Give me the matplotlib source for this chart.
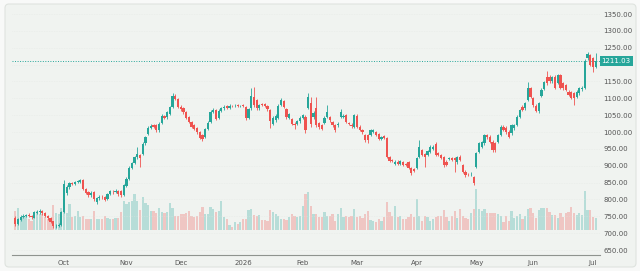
import matplotlib
matplotlib.use("Agg")
import matplotlib.pyplot as plt
import matplotlib.transforms as mtransforms
from matplotlib.patches import FancyBboxPatch
import numpy as np
import pandas as pd

# ---------------- data ----------------
start_date = "2025-09-05"
n_days = 215

opens = [745, 728, 740, 748, 752, 755, 752, 746, 761, 762,
         767, 760, 752, 745, 735, 721, 722, 724, 762, 818,
         836, 848, 846, 851, 853, 857, 831, 821, 812, 822,
         792, 803, 808, 808, 800, 815, 823, 821, 826, 825,
         813, 841, 862, 893, 908, 925, 932, 935, 966, 995,
         1013, 1020, 1020, 1005, 1028, 1046, 1044, 1052, 1074, 1106,
         1098, 1075, 1070, 1058, 1045, 1030, 1020, 1012, 1000, 990,
         985, 1010, 1030, 1060, 1065, 1042, 1062, 1070, 1076, 1072,
         1078, 1076, 1078, 1077, 1079, 1075, 1043, 1070, 1105, 1095,
         1070, 1083, 1082, 1078, 1065, 1025, 1035, 1042, 1080, 1092,
         1068, 1042, 1038, 1025, 1024, 1032, 1042, 1045, 1072, 1085,
         1045, 1071, 1027, 1020, 1027, 1045, 1044, 1030, 1021, 1020,
         1045, 1045, 1050, 1027, 1022, 1015, 1048, 1016, 1006, 991,
         990, 991, 1000, 1000, 994, 980, 987, 981, 927, 917,
         905, 912, 905, 910, 905, 912, 894, 890, 893, 927,
         947, 935, 932, 942, 950, 965, 938, 932, 927, 912,
         920, 923, 923, 910, 927, 902, 882, 875, 874, 867,
         897, 941, 956, 966, 991, 986, 971, 966, 971, 991,
         1016, 1013, 1001, 996, 1011, 1021, 1045, 1075, 1070, 1095,
         1130, 1101, 1078, 1062, 1108, 1128, 1162, 1164, 1150, 1164,
         1145, 1168, 1144, 1139, 1120, 1118, 1115, 1105, 1115, 1127,
         1130, 1219, 1228, 1219, 1194]

closes = [728, 742, 749, 752, 754, 751, 747, 762, 763, 767,
          759, 751, 744, 734, 720, 722, 725, 762, 845, 836,
          848, 846, 851, 854, 857, 832, 820, 812, 820, 800,
          804, 808, 806, 799, 817, 824, 821, 826, 815, 812,
          842, 862, 894, 908, 925, 935, 922, 965, 984, 1013,
          1018, 1015, 1005, 1025, 1048, 1042, 1058, 1073, 1108, 1098,
          1075, 1068, 1058, 1043, 1031, 1016, 1010, 1000, 983, 978,
          1008, 1028, 1060, 1065, 1040, 1063, 1070, 1075, 1072, 1078,
          1076, 1078, 1077, 1078, 1077, 1043, 1068, 1108, 1080, 1070,
          1080, 1080, 1078, 1068, 1032, 1042, 1047, 1078, 1095, 1075,
          1045, 1052, 1025, 1022, 1032, 1042, 1050, 1005, 1104, 1025,
          1056, 1021, 1015, 1010, 1042, 1060, 1035, 1020, 1006, 1025,
          1060, 1046, 1030, 1025, 1018, 1050, 1015, 1006, 1000, 976,
          975, 1006, 1006, 991, 980, 984, 983, 927, 914, 915,
          912, 905, 914, 902, 903, 894, 878, 885, 923, 956,
          932, 927, 944, 956, 956, 932, 932, 923, 902, 902,
          923, 917, 917, 925, 917, 882, 872, 874, 876, 848,
          937, 966, 969, 991, 984, 971, 947, 947, 991, 1016,
          1006, 999, 986, 1021, 1021, 1045, 1065, 1065, 1085, 1130,
          1105, 1080, 1062, 1085, 1126, 1148, 1145, 1150, 1163, 1132,
          1168, 1132, 1130, 1125, 1110, 1102, 1100, 1120, 1130, 1132,
          1212, 1232, 1200, 1194, 1211.03]

highs = [750, 746, 753, 756, 758, 759, 755, 766, 768, 772,
         770, 762, 755, 748, 737, 727, 729, 766, 858, 842,
         853, 852, 855, 859, 862, 860, 834, 825, 824, 826,
         808, 812, 812, 810, 820, 828, 827, 830, 829, 828,
         846, 866, 898, 912, 930, 956, 936, 969, 988, 1017,
         1023, 1024, 1023, 1029, 1053, 1050, 1062, 1078, 1115, 1112,
         1101, 1079, 1073, 1061, 1048, 1034, 1023, 1015, 1004, 994,
         1012, 1032, 1064, 1070, 1068, 1067, 1074, 1079, 1080, 1082,
         1081, 1082, 1082, 1081, 1083, 1078, 1072, 1130, 1133, 1099,
         1084, 1087, 1086, 1081, 1068, 1046, 1052, 1082, 1102, 1095,
         1072, 1056, 1042, 1029, 1036, 1046, 1054, 1050, 1115, 1105,
         1062, 1105, 1031, 1024, 1046, 1080, 1048, 1034, 1025, 1029,
         1068, 1052, 1054, 1031, 1026, 1054, 1052, 1020, 1010, 995,
         994, 1010, 1010, 1004, 998, 988, 991, 984, 930, 921,
         916, 916, 918, 914, 909, 915, 897, 894, 927, 976,
         950, 938, 948, 960, 960, 969, 942, 936, 930, 916,
         927, 927, 927, 929, 931, 906, 886, 879, 880, 870,
         941, 970, 973, 995, 995, 990, 975, 970, 995, 1020,
         1020, 1017, 1005, 1025, 1025, 1049, 1069, 1079, 1089, 1149,
         1134, 1105, 1082, 1089, 1130, 1152, 1182, 1168, 1167, 1168,
         1172, 1172, 1148, 1143, 1124, 1122, 1119, 1124, 1134, 1136,
         1216, 1238, 1232, 1223, 1234]

lows = [722, 724, 737, 744, 748, 747, 741, 744, 757, 758,
        755, 748, 740, 730, 714, 716, 718, 721, 760, 812,
        832, 842, 842, 848, 850, 828, 815, 808, 808, 796,
        786, 799, 802, 795, 797, 812, 817, 818, 811, 808,
        810, 838, 858, 889, 904, 921, 896, 931, 962, 990,
        1009, 1011, 1001, 1000, 1024, 1038, 1040, 1049, 1070, 1094,
        1071, 1063, 1053, 1038, 1026, 1011, 1005, 995, 978, 972,
        981, 1006, 1026, 1056, 1035, 1038, 1058, 1066, 1068, 1069,
        1073, 1073, 1074, 1074, 1073, 1036, 1040, 1066, 1075, 1065,
        1066, 1076, 1074, 1063, 1012, 1020, 1031, 1039, 1076, 1070,
        1040, 1038, 1020, 1010, 1020, 1028, 1038, 998, 1068, 1015,
        1040, 1016, 1010, 1005, 1023, 1041, 1031, 1016, 1001, 1016,
        1041, 1041, 1026, 1021, 1013, 1011, 1011, 1002, 995, 971,
        968, 987, 996, 987, 975, 976, 979, 922, 910, 911,
        901, 901, 901, 898, 899, 889, 873, 880, 889, 923,
        928, 897, 928, 938, 946, 928, 928, 919, 897, 898,
        916, 913, 880, 906, 913, 877, 868, 870, 870, 843,
        893, 937, 952, 962, 980, 966, 942, 940, 967, 987,
        1002, 995, 981, 992, 1007, 1017, 1041, 1061, 1066, 1091,
        1100, 1075, 1058, 1056, 1104, 1124, 1140, 1146, 1146, 1127,
        1141, 1127, 1126, 1121, 1106, 1097, 1080, 1101, 1111, 1123,
        1127, 1214, 1195, 1178, 1190]

# volume in millions of shares
volumes = [1.9, 2.2, 1.2, 1.4, 1.4, 1.1, 0.9, 1.4, 1.9, 1.6,
           1.6, 1.3, 1.1, 0.9, 2.5, 1.7, 1.6, 2.2, 3.1, 1.7,
           2.6, 1.3, 1.4, 1.9, 1.3, 1.4, 1.1, 1.1, 1.1, 1.9,
           1.1, 1.1, 1.1, 1.4, 1.2, 1.1, 1.1, 1.2, 1.2, 1.8,
           2.9, 2.6, 2.8, 2.9, 3.6, 2.9, 2.0, 3.3, 2.7, 2.5,
           1.9, 1.9, 1.7, 2.2, 1.8, 1.7, 1.8, 2.7, 2.2, 1.4,
           1.4, 1.6, 1.6, 1.7, 1.9, 1.4, 1.3, 1.4, 1.8, 2.3,
           1.6, 1.6, 2.3, 2.1, 1.8, 1.9, 2.9, 1.3, 1.1, 0.5,
           0.3, 0.8, 0.6, 0.8, 1.1, 1.1, 2.0, 2.1, 1.5, 1.4,
           1.5, 1.0, 1.0, 0.9, 2.0, 1.8, 1.6, 1.4, 1.1, 1.1,
           1.0, 1.3, 1.6, 1.4, 1.3, 1.4, 2.4, 3.6, 3.8, 2.4,
           1.6, 1.6, 1.3, 1.3, 1.8, 1.4, 1.4, 1.6, 0.9, 1.6,
           2.2, 1.3, 1.4, 1.3, 1.4, 2.1, 1.3, 1.4, 1.2, 1.6,
           1.9, 1.0, 0.9, 0.8, 1.1, 0.9, 1.3, 2.8, 1.8, 1.4,
           2.4, 1.3, 1.4, 1.1, 1.1, 1.3, 1.6, 1.3, 3.1, 1.4,
           0.9, 1.4, 1.3, 0.9, 1.1, 1.3, 1.4, 1.4, 2.0, 1.3,
           0.9, 1.4, 1.9, 1.2, 2.1, 1.4, 1.2, 1.1, 1.7, 2.1,
           4.1, 2.1, 1.9, 2.1, 1.7, 1.7, 1.7, 1.7, 1.6, 1.4,
           0.8, 1.4, 0.9, 1.9, 1.2, 1.4, 1.6, 1.1, 1.4, 2.1,
           2.2, 1.7, 1.2, 2.0, 2.2, 2.2, 2.2, 1.8, 1.5, 1.5,
           1.2, 1.7, 1.3, 1.7, 1.8, 2.3, 1.7, 1.5, 1.7, 1.5,
           3.9, 2.0, 2.0, 1.3, 1.2]

price_ticks = [650, 700, 750, 800, 850, 900, 950, 1000, 1050,
               1100, 1150, 1200, 1250, 1300, 1350]
last_price = 1211.03

# ---------------- style ----------------
UP = "#26a69a"
DOWN = "#ef5350"
BG = "#f0f3f0"

dates = pd.bdate_range(start_date, periods=n_days)
o = np.array(opens, float)
c = np.array(closes, float)
h = np.array(highs, float)
l = np.array(lows, float)
v = np.array(volumes, float)
idx = np.arange(n_days)
up = c >= o
cols = np.where(up, UP, DOWN)

fig = plt.figure(figsize=(6.4, 2.71), dpi=100)
fig.patch.set_facecolor("#f8f9f8")

# card background
bg_ax = fig.add_axes([0, 0, 1, 1], zorder=-5)
bg_ax.set_xlim(0, 640)
bg_ax.set_ylim(271, 0)
bg_ax.axis("off")
bg_ax.add_patch(FancyBboxPatch((5, 4), 631, 263,
                               boxstyle="round,pad=0,rounding_size=4",
                               facecolor=BG, edgecolor="#dfe3df",
                               linewidth=0.8))

rect = [12 / 640, 1 - 255 / 271, 588 / 640, 250 / 271]

# volume axes (behind candles)
vax = fig.add_axes(rect, zorder=1)
vax.set_facecolor("none")
vax.bar(idx, v, width=0.82, color=np.where(up, UP, DOWN), alpha=0.28,
        linewidth=0)
vax.set_ylim(-2.55, 22.45)
vax.set_xlim(-1.2, 215.6)
vax.axis("off")

# price axes
ax = fig.add_axes(rect, zorder=2)
ax.set_facecolor("none")
ax.set_xlim(-1.2, 215.6)
ax.set_ylim(635.2, 1376.7)

ax.vlines(idx, l, h, colors=cols, linewidth=0.6, zorder=3)
body = np.where(np.abs(c - o) < 1.5, 1.5, c - o)
ax.bar(idx, body, bottom=o, width=0.82, color=cols, linewidth=0, zorder=4)

ax.axhline(last_price, color=UP, linestyle=(0, (1, 1.6)), linewidth=0.7,
           zorder=2)

for s in ["top", "left", "right"]:
    ax.spines[s].set_visible(False)
ax.spines["bottom"].set_color("#8f948f")
ax.spines["bottom"].set_linewidth(0.8)

ax.yaxis.tick_right()
ax.set_yticks(price_ticks)
# the 1200.00 label sits under the last-price tag in the reference
ax.set_yticklabels(["" if p == 1200 else f"{p:.2f}" for p in price_ticks])
ax.tick_params(axis="y", length=0, pad=2.5, labelsize=5, labelcolor="#555555")
ax.grid(axis="y", color="#e2e6e2", linewidth=0.4, linestyle=(0, (1, 2)))

# month ticks
month_idx, month_lab = [], []
for i in range(1, n_days):
    if dates[i].month != dates[i - 1].month:
        month_idx.append(i)
        month_lab.append(str(dates[i].year) if dates[i].month == 1
                         else dates[i].strftime("%b"))
ax.set_xticks(month_idx)
ax.set_xticklabels(month_lab)
ax.tick_params(axis="x", length=0, pad=3.5, labelsize=5, labelcolor="#555555")

# last price label
trans = mtransforms.blended_transform_factory(ax.transAxes, ax.transData)
ax.text(1.0 + 1.5 / 588, last_price, f"{last_price:.2f}", transform=trans,
        ha="left", va="center", fontsize=5, color="white", zorder=10,
        bbox=dict(boxstyle="square,pad=0.28", facecolor=UP, edgecolor="none"),
        clip_on=False)

fig.savefig("out.png", dpi=100, facecolor=fig.get_facecolor())
